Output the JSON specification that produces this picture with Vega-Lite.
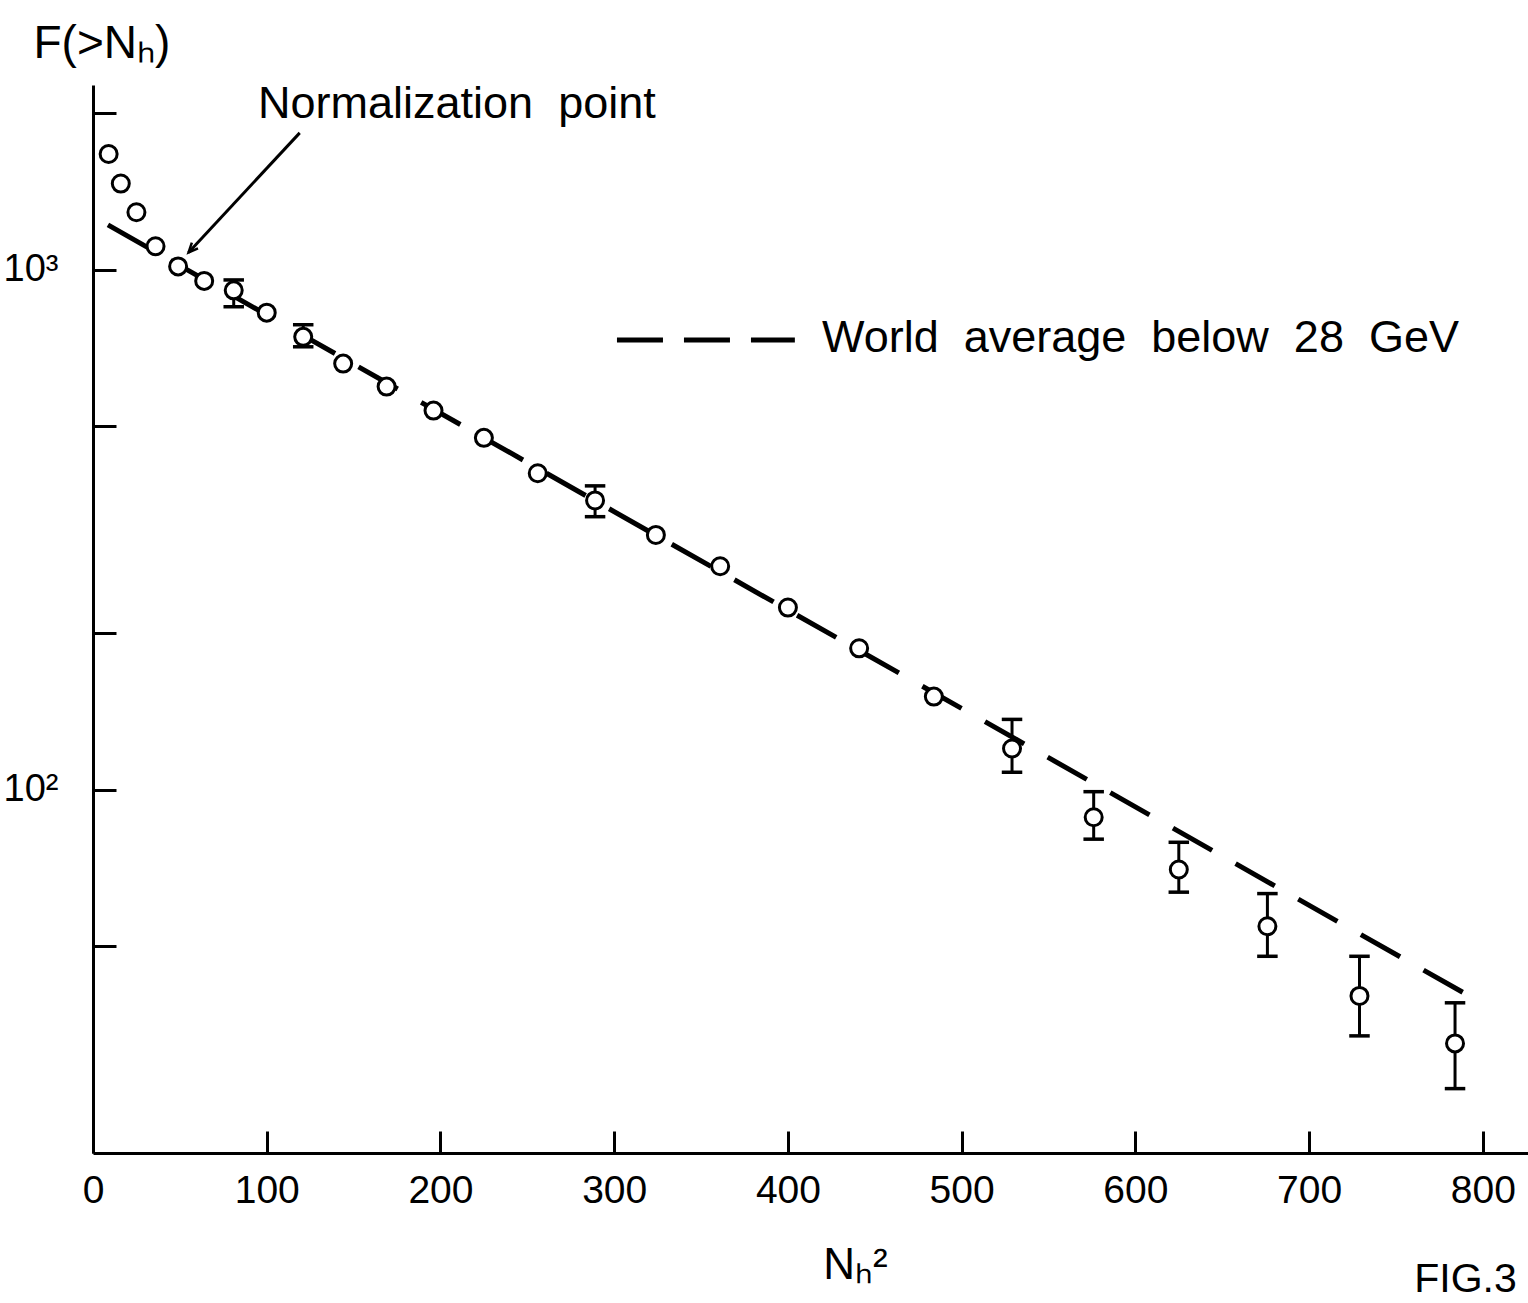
{
  "$schema": "https://vega.github.io/schema/vega-lite/v6.json",
  "width": 1435,
  "height": 1068,
  "autosize": "none",
  "padding": {"left": 93, "top": 85, "right": 0, "bottom": 150},
  "background": "white",
  "config": {
    "view": {"stroke": null},
    "font": "Liberation Sans",
    "axis": {"grid": false, "domainColor": "black", "tickColor": "black", "labelColor": "black", "titleColor": "black", "domainWidth": 3, "tickWidth": 3, "labelFont": "Liberation Sans", "titleFont": "Liberation Sans", "titleFontWeight": "normal"}
  },
  "datasets": {
    "pts": [
      {"x": 9, "y": 1670},
      {"x": 16, "y": 1465},
      {"x": 25, "y": 1290},
      {"x": 36, "y": 1110},
      {"x": 49, "y": 1015},
      {"x": 64, "y": 952},
      {"x": 81, "y": 913, "lo": 849, "hi": 956},
      {"x": 100, "y": 827},
      {"x": 121, "y": 743, "lo": 711, "hi": 784},
      {"x": 144, "y": 660},
      {"x": 169, "y": 596},
      {"x": 196, "y": 536},
      {"x": 225, "y": 475},
      {"x": 256, "y": 406},
      {"x": 289, "y": 360, "lo": 335, "hi": 384},
      {"x": 324, "y": 309},
      {"x": 361, "y": 269},
      {"x": 400, "y": 224},
      {"x": 441, "y": 187},
      {"x": 484, "y": 151},
      {"x": 529, "y": 120, "lo": 108, "hi": 136.5},
      {"x": 576, "y": 88.5, "lo": 80.3, "hi": 99.1},
      {"x": 625, "y": 70.2, "lo": 63.5, "hi": 79.2},
      {"x": 676, "y": 54.6, "lo": 47.8, "hi": 63.1},
      {"x": 729, "y": 40.1, "lo": 33.6, "hi": 47.8},
      {"x": 784, "y": 32.5, "lo": 26.6, "hi": 38.9}
    ],
    "fit": [{"x": 8.6, "y": 1220}, {"x": 791, "y": 40.3}],
    "legendline": [{"x": 301.6, "y": 733}, {"x": 404, "y": 733}],
    "arrow": [{"x": 119, "y": 1834}, {"x": 55, "y": 1080}],
    "labels": [
      {"x": 95, "y": 2085, "text": "Normalization\u00a0 point", "fs": 45},
      {"x": 419.6, "y": 740, "text": "World\u00a0 average\u00a0 below\u00a0 28\u00a0 GeV", "fs": 45},
      {"x": 760.5, "y": 11.4, "text": "FIG.3", "fs": 41}
    ]
  },
  "encoding": {
    "x": {"field": "x", "type": "quantitative", "scale": {"domain": [0, 826], "nice": false, "zero": false},
      "axis": {"values": [0, 100, 200, 300, 400, 500, 600, 700, 800], "tickSize": -22, "labelFlush": false, "labelFontSize": 39, "labelPadding": 40, "title": "Nₕ²", "titleFontSize": 44, "titleX": 762, "titleY": 112, "titleAnchor": "start", "titleAlign": "center", "titleBaseline": "middle"}},
    "y": {"field": "y", "type": "quantitative", "scale": {"type": "log", "domain": [20, 2267], "nice": false, "zero": false},
      "axis": {"values": [50, 100, 200, 500, 1000, 2000], "tickSize": -23, "labelFontSize": 38, "labelPadding": 58, "labelExpr": "datum.value == 1000 ? '10³' : datum.value == 100 ? '10²' : ''", "title": "F(>Nₕ)", "titleFontSize": 46, "titleAngle": 0, "titleX": -60, "titleY": -42, "titleAlign": "left", "titleBaseline": "middle", "titleAnchor": "start"}}
  },
  "layer": [
    {"data": {"name": "fit"}, "mark": {"type": "line", "color": "black", "strokeWidth": 5, "strokeDash": [45, 27], "clip": false}},
    {"data": {"name": "legendline"}, "mark": {"type": "line", "color": "black", "strokeWidth": 5, "strokeDash": [46, 21]}},
    {"data": {"name": "arrow"}, "mark": {"type": "line", "color": "black", "strokeWidth": 3}},
    {"data": {"name": "arrow"}, "transform": [{"filter": "datum.x < 60"}], "mark": {"type": "point", "shape": "M -0.45 -1 L 0 0 L 0.45 -1", "filled": false, "stroke": "black", "strokeWidth": 2.5, "size": 350, "angle": 43, "opacity": 1}},
    {"data": {"name": "pts"}, "transform": [{"filter": "isValid(datum.lo)"}], "mark": {"type": "rule", "color": "black", "strokeWidth": 3}, "encoding": {"y": {"field": "lo", "type": "quantitative"}, "y2": {"field": "hi"}}},
    {"data": {"name": "pts"}, "transform": [{"filter": "isValid(datum.lo)"}], "mark": {"type": "point", "shape": "stroke", "size": 420, "strokeWidth": 3.5, "color": "black", "opacity": 1}, "encoding": {"y": {"field": "lo", "type": "quantitative"}}},
    {"data": {"name": "pts"}, "transform": [{"filter": "isValid(datum.lo)"}], "mark": {"type": "point", "shape": "stroke", "size": 420, "strokeWidth": 3.5, "color": "black", "opacity": 1}, "encoding": {"y": {"field": "hi", "type": "quantitative"}}},
    {"data": {"name": "pts"}, "mark": {"type": "point", "shape": "circle", "size": 289, "filled": true, "fill": "white", "stroke": "black", "strokeWidth": 3, "opacity": 1}},
    {"data": {"name": "labels"}, "mark": {"type": "text", "align": "left", "baseline": "middle", "color": "black", "clip": false}, "encoding": {"text": {"field": "text"}, "size": {"field": "fs", "type": "quantitative", "scale": null}}}
  ]
}
